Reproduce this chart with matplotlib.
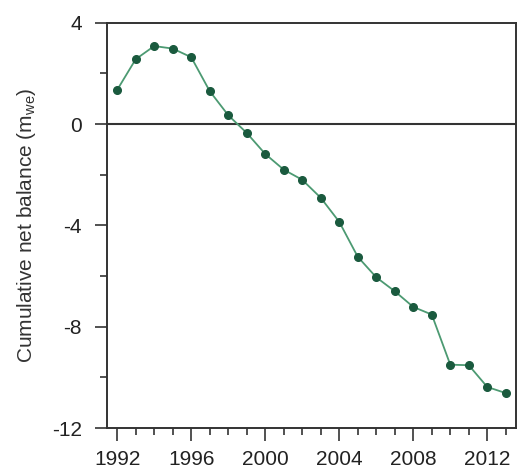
import matplotlib.pyplot as plt
from matplotlib.ticker import MultipleLocator

# Cumulative net balance per year (m w.e.)
years = list(range(1992, 2014))
balance = [1.35, 2.56, 3.08, 2.98, 2.64, 1.30, 0.35, -0.35, -1.18, -1.80, -2.20,
           -2.91, -3.86, -5.24, -6.05, -6.60, -7.22, -7.52, -9.50, -9.52, -10.38, -10.62]
x_labels = [1992, 1996, 2000, 2004, 2008, 2012]
y_labels = [-12, -8, -4, 0, 4]

plt.rcParams['font.family'] = ['Liberation Sans', 'DejaVu Sans']
plt.rcParams['axes.unicode_minus'] = False
plt.rcParams['mathtext.fontset'] = 'custom'
plt.rcParams['mathtext.rm'] = 'Liberation Sans'

fig = plt.figure(figsize=(5.17, 4.74), dpi=100)
ax = fig.add_axes([0.207, 0.097, 0.791, 0.855])

ax.axhline(0, color='#333333', lw=1.5, zorder=1)
ax.plot(years, balance, color='#4c9a72', lw=1.3, zorder=2)
ax.plot(years, balance, 'o', color='#1a5a3e', ms=5.5, zorder=3)

ax.set_xlim(1991.45, 2013.55)
ax.set_ylim(-12, 4)
ax.set_xticks(x_labels)
ax.xaxis.set_minor_locator(MultipleLocator(1))
ax.set_yticks(y_labels)
ax.yaxis.set_minor_locator(MultipleLocator(2))

ax.tick_params(which='major', direction='out', length=9, width=1.2, color='#333333',
               labelsize=15, labelcolor='#222222')
ax.tick_params(which='minor', direction='out', length=5, width=1.2, color='#333333')
ax.tick_params(axis='x', which='major', pad=7)
ax.tick_params(axis='y', which='major', pad=9)

for s in ax.spines.values():
    s.set_linewidth(1.4)
    s.set_color('#333333')

ax.set_ylabel('Cumulative net balance (m$_{\\mathrm{we}}$)', fontsize=15,
              color='#333333', labelpad=10)

fig.savefig('out.png', dpi=100)
